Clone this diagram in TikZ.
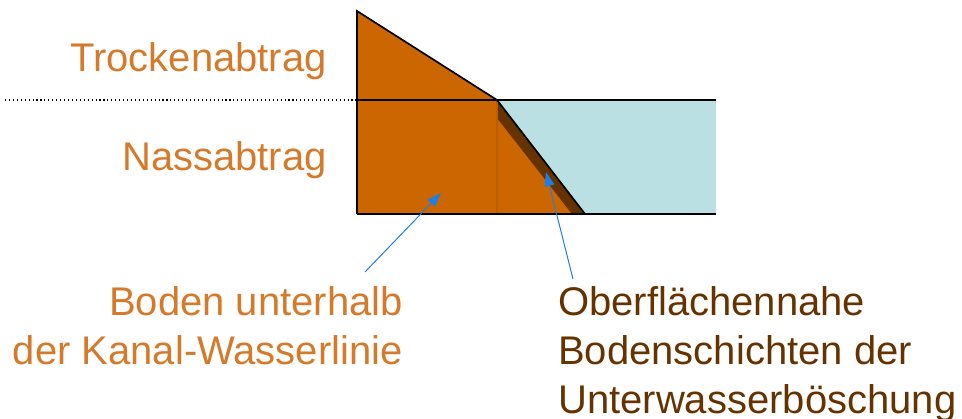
\documentclass[tikz,border=0pt]{standalone}
\usepackage{fontspec}
\setmainfont{Liberation Sans}
\usepackage{tikz}
\usetikzlibrary{arrows.meta,positioning}

\definecolor{soil}{HTML}{CC6600}
\definecolor{soildark}{HTML}{663300}
\definecolor{water}{HTML}{BBE0E3}
\definecolor{labelorange}{HTML}{D47A2A}
\definecolor{pointer}{HTML}{1E7FE6}

\begin{document}
\begin{tikzpicture}[
  x=0.025cm, y=-0.025cm,
  outline/.style={draw=black, line width=1.2pt},
  lbl/.style={inner sep=0pt, font=\fontsize{28.45}{34.9}\selectfont},
  arr/.style={-{Triangle[length=10pt,width=7pt]}, draw=pointer, fill=pointer, line width=0.7pt}
]
\useasboundingbox (0,0) rectangle (962,419);

% ground and water
\fill[soil] (357,11) -- (497,100) -- (497,214) -- (357,214) -- cycle;
\fill[soil] (497,100) -- (585,214) -- (497,214) -- cycle;
\fill[water] (497,100) -- (716,100) -- (716,214) -- (585,214) -- cycle;
\fill[soildark] (497,100) -- (585,214) -- (572,214) -- (497,118) -- cycle;
\draw[soil!92!black, line width=1.5pt] (497,100) -- (497,214);

% outlines
\draw[outline] (357,214) -- (357,11) -- (497,100) -- (585,214);
\draw[outline] (357,100) -- (716,100);
\draw[outline] (357,214) -- (716,214);
\draw[dotted, line width=0.8pt] (5,100) -- (357,100);

% labels
\node[lbl, text=labelorange, anchor=base east] (trocken) at (327,72) {Trockenabtrag};
\node[lbl, text=labelorange, anchor=base east] (nass) at (327,171) {Nassabtrag};
\node[lbl, text=labelorange, align=right, anchor=base east] (boden) at (403,365) {Boden unterhalb\\der Kanal-Wasserlinie};
\node[lbl, text=soildark, align=left, anchor=base west] (schicht) at (558,414) {Oberflächennahe\\Bodenschichten der\\Unterwasserböschung};

% pointers
\coordinate (b0) at (365,272);
\coordinate (b1) at (441,193);
\coordinate (s0) at (573,279);
\coordinate (s1) at (546,172);
\draw[arr] (b0) -- (b1);
\draw[arr] (s0) -- (s1);
\end{tikzpicture}
\end{document}
